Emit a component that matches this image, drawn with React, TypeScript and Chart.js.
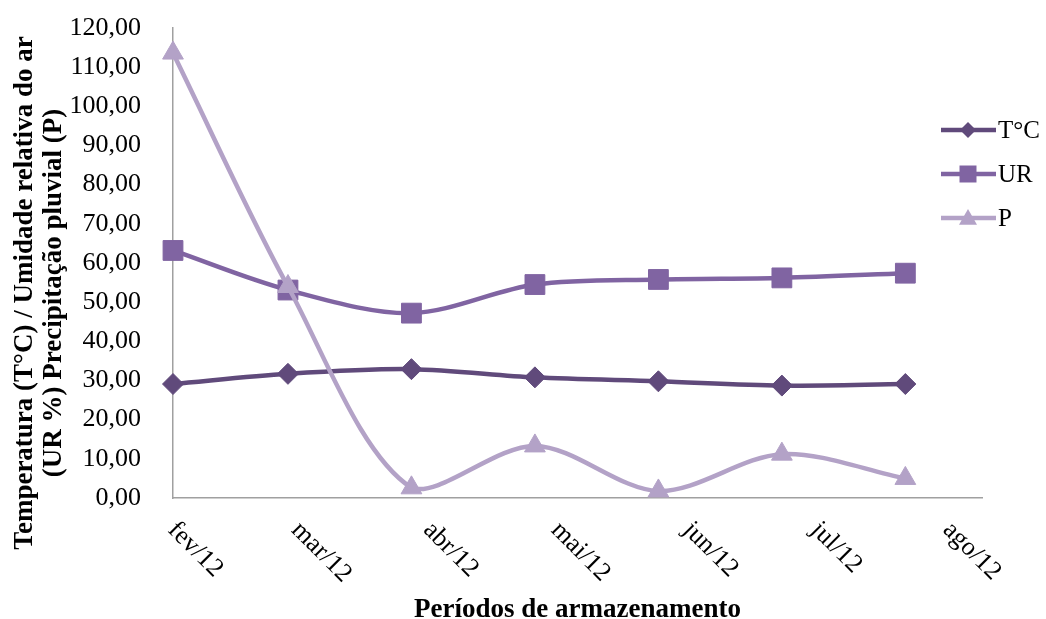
import React, { useEffect, useRef } from "react";
import { Chart, registerables } from "chart.js";

Chart.register(...registerables);

// ---- data ----
const axisStartDate = "2012-02-01";
const axisEndDate = "2012-08-09";
const sampleDates = ["2012-02-01", "2012-02-28", "2012-03-28", "2012-04-26", "2012-05-25", "2012-06-23", "2012-07-22"];
const monthTickDates = ["2012-02-01", "2012-03-01", "2012-04-01", "2012-05-01", "2012-06-01", "2012-07-01", "2012-08-01"];
const monthLabels = ["fev/12", "mar/12", "abr/12", "mai/12", "jun/12", "jul/12", "ago/12"];
const tempValues = [29.1, 31.7, 32.9, 30.8, 29.8, 28.7, 29.1];
const urValues = [63.2, 53.1, 47.2, 54.5, 55.8, 56.2, 57.4];
const pValues = [113.6, 54.0, 2.6, 13.3, 1.8, 11.2, 5.0];
const seriesNames = ["T°C", "UR", "P"];
const yTitleLines = ["Temperatura (T°C) / Umidade relativa do ar", "(UR %) Precipitação pluvial (P)"];
const xTitle = "Períodos de armazenamento";
const yMin = 0;
const yMax = 120;
const yStep = 10;

const COLORS = ["#604a7b", "#8064a2", "#b3a2c7"];
const SERIF = '"Liberation Serif", "Times New Roman", serif';

const dayOf = (s: string) => (Date.parse(s) - Date.parse(axisStartDate)) / 86400000;

function drawMarker(ctx: CanvasRenderingContext2D, kind: string, x: number, y: number, s: number, color: string) {
  ctx.save();
  ctx.fillStyle = color;
  ctx.beginPath();
  if (kind === "diamond") {
    ctx.moveTo(x, y - s);
    ctx.lineTo(x + s, y);
    ctx.lineTo(x, y + s);
    ctx.lineTo(x - s, y);
  } else if (kind === "square") {
    ctx.rect(x - s, y - s, 2 * s, 2 * s);
  } else {
    ctx.moveTo(x, y - s);
    ctx.lineTo(x + s, y + s * 0.75);
    ctx.lineTo(x - s, y + s * 0.75);
  }
  ctx.closePath();
  ctx.fill();
  ctx.restore();
}

const decorPlugin = {
  id: "decor",
  afterDraw(chart: any) {
    const ctx: CanvasRenderingContext2D = chart.ctx;
    const xs = chart.scales.x;
    const area = chart.chartArea;
    ctx.save();
    ctx.fillStyle = "#000";

    // x tick labels (rotated clockwise, starting at the tick)
    ctx.font = `26px ${SERIF}`;
    ctx.textAlign = "left";
    ctx.textBaseline = "top";
    monthTickDates.forEach((d, i) => {
      const px = xs.getPixelForValue(dayOf(d));
      ctx.save();
      ctx.translate(px + 8, area.bottom + 19);
      ctx.rotate(Math.PI / 4);
      ctx.fillText(monthLabels[i], 0, 0);
      ctx.restore();
    });

    // x title
    ctx.font = `bold 27px ${SERIF}`;
    ctx.textAlign = "center";
    ctx.textBaseline = "alphabetic";
    ctx.fillText(xTitle, (area.left + area.right) / 2, 617);

    // y title
    ctx.save();
    ctx.translate(32, 293);
    ctx.rotate(-Math.PI / 2);
    ctx.textAlign = "center";
    ctx.textBaseline = "alphabetic";
    ctx.fillText(yTitleLines[0], 0, 0);
    ctx.fillText(yTitleLines[1], 0, 29);
    ctx.restore();

    // legend
    const kinds = ["diamond", "square", "triangle"];
    const sizes = [8, 8.5, 9];
    const rowsY = [130, 174, 218];
    ctx.font = `25px ${SERIF}`;
    ctx.textAlign = "left";
    ctx.textBaseline = "middle";
    seriesNames.forEach((name, i) => {
      const y = rowsY[i];
      ctx.strokeStyle = COLORS[i];
      ctx.lineWidth = 4.5;
      ctx.beginPath();
      ctx.moveTo(941, y);
      ctx.lineTo(996, y);
      ctx.stroke();
      drawMarker(ctx, kinds[i], 968, y, sizes[i], COLORS[i]);
      ctx.fillStyle = "#000";
      ctx.fillText(name, 998, y + 1);
    });
    ctx.restore();
  },
};

export default function App() {
  const canvasRef = useRef<HTMLCanvasElement | null>(null);

  useEffect(() => {
    const canvas = canvasRef.current;
    if (!canvas) return;
    const mk = (vals: number[]) => vals.map((v, i) => ({ x: dayOf(sampleDates[i]), y: v }));
    const common = { borderWidth: 4.5, tension: 0.32, clip: false, pointBorderWidth: 1 };
    const chart = new Chart(canvas, {
      type: "line",
      data: {
        datasets: [
          {
            ...common,
            label: seriesNames[0],
            data: mk(tempValues),
            borderColor: COLORS[0],
            backgroundColor: COLORS[0],
            pointBackgroundColor: COLORS[0],
            pointBorderColor: COLORS[0],
            pointStyle: "rectRot",
            pointRadius: 10.5,
            order: 2,
          },
          {
            ...common,
            label: seriesNames[1],
            data: mk(urValues),
            borderColor: COLORS[1],
            backgroundColor: COLORS[1],
            pointBackgroundColor: COLORS[1],
            pointBorderColor: COLORS[1],
            pointStyle: "rect",
            pointRadius: 14,
            order: 1,
          },
          {
            ...common,
            label: seriesNames[2],
            data: mk(pValues),
            borderColor: COLORS[2],
            backgroundColor: COLORS[2],
            pointBackgroundColor: COLORS[2],
            pointBorderColor: COLORS[2],
            pointStyle: "triangle",
            pointRadius: 12,
            order: 0,
          },
        ],
      },
      options: {
        animation: false,
        responsive: false,
        events: [],
        layout: { padding: { top: 28, right: 64, left: 0, bottom: 0 } },
        plugins: { legend: { display: false }, tooltip: { enabled: false }, title: { display: false } },
        scales: {
          x: {
            type: "linear",
            min: 0,
            max: dayOf(axisEndDate),
            grid: { display: false },
            border: { display: true, color: "#a0a0a0", width: 1.5 },
            ticks: { display: false },
            afterBuildTicks: (scale: any) => {
              scale.ticks = monthTickDates.map((d) => ({ value: dayOf(d) }));
            },
            afterFit: (scale: any) => {
              scale.height = 619 - 498;
              scale.paddingLeft = 0;
              scale.paddingRight = 0;
            },
          },
          y: {
            min: yMin,
            max: yMax,
            grid: { display: false },
            border: { display: true, color: "#a0a0a0", width: 1.5 },
            ticks: {
              stepSize: yStep,
              padding: 24,
              color: "#000",
              font: { family: SERIF, size: 26 },
              callback: (v: any) => Number(v).toFixed(2).replace(".", ","),
            },
            afterFit: (scale: any) => {
              scale.width = 173;
              scale.paddingTop = 0;
              scale.paddingBottom = 0;
            },
          },
        },
      },
      plugins: [decorPlugin],
    } as any);
    return () => chart.destroy();
  }, []);

  return (
    <div style={{ position: "fixed", left: 0, top: 0, width: 1046, height: 619, background: "#fff" }}>
      <canvas ref={canvasRef} width={1046} height={619} style={{ display: "block" }} />
    </div>
  );
}
